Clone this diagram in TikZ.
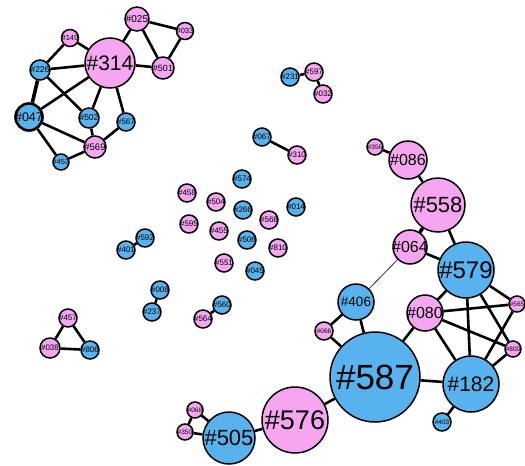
\documentclass[tikz,border=0pt]{standalone}
\usepackage{fontspec}
\setmainfont{Liberation Sans}
\definecolor{NodePink}{HTML}{F6A6F1}
\definecolor{NodeBlue}{HTML}{58B2EE}
\tikzset{
  vtx/.style={circle, draw=black, line width=1.5pt, inner sep=0pt},
  pinkv/.style={vtx, fill=NodePink},
  bluev/.style={vtx, fill=NodeBlue},
  link/.style={line width=2.6pt},
  heavylink/.style={line width=3.6pt},
  weaklink/.style={line width=0.6pt}
}

\begin{document}
\begin{tikzpicture}[x=1pt, y=-1pt]
    \useasboundingbox (0,0) rectangle (525,466);
    % pink vertices: id/x/y/radius/font size
    \foreach \id/\x/\y/\r/\f in {314/110/63/25/21, 025/137/19/12/10, 033/185/31/8.5/7.5,
        149/70/38/8.5/7.5, 501/163/68/11/9, 569/95/147/11/9.5, 597/314/72/9/8,
        032/323/94/9/8, 310/297/155/9/8, 458/187/193/9/8, 504/216/202/9/8,
        595/189/224/9/8, 455/219/231/9/8, 568/269/220/9/8, 810/278/248/9/8,
        551/224/263/9/8, 564/203/319/9/8, 457/68/318/9/8, 038/50/348/10/8,
        356/375/147/8/6.5, 086/408/160/19/16, 558/438/205/27/22, 064/410/247/17/16,
        080/425/313/18/16, 565/517/304/8/6.5, 800/513/349/8/6.5, 066/324/331/9/6.5,
        576/295/420/33/27, 068/195/410/8/6.5, 350/185/432/8/6.5}{
      \node[pinkv, minimum size=2*\r pt,
        label={[font=\fontsize{\f}{\f}\selectfont]center:\#\id}] (n\id) at (\x,\y) {};
    }
    % blue vertices: id/x/y/radius/font size
    \foreach \id/\x/\y/\r/\f in {226/40/70/10/8.5, 502/89/118/10/8.5, 567/126/122/9/8,
        453/61/162/8/7.5, 231/290/77/9/8, 067/262/137/9/8, 574/242/179/9/8,
        266/243/210/9/8, 014/296/207/9/8, 592/145/238/9/8, 401/126/250/9/8,
        506/247/240/9/8, 045/255/271/9/8, 008/160/290/9/8, 237/152/312/9/8,
        560/222/305/9/8, 806/90/350/9/8, 579/466/270/28/24, 406/356/302/18/13.5,
        587/375/377/45/35, 182/471/384/28/21, 403/442/422/9/6.5, 505/229/438/26/22}{
      \node[bluev, minimum size=2*\r pt,
        label={[font=\fontsize{\f}{\f}\selectfont]center:\#\id}] (n\id) at (\x,\y) {};
    }
    % the one with the heavy rim
    \node[bluev, line width=2.6pt, minimum size=27pt,
      label={[font=\fontsize{12.5}{12.5}\selectfont]center:\#047}] (n047) at (29,117) {};
    % edges
    \foreach \a/\b in {314/025, 314/149, 314/226, 314/501, 314/047, 314/502, 314/567,
        025/033, 025/501, 033/501, 149/226, 226/502, 047/569, 047/453, 453/569,
        502/569, 567/569, 231/597, 597/032, 067/310, 401/592, 008/237, 560/564,
        457/038, 457/806, 038/806, 356/086, 086/558, 558/579, 064/579, 406/066,
        406/587, 066/587, 587/080, 587/182, 587/576, 576/505, 505/350, 505/068,
        068/350, 080/579, 080/565, 080/800, 080/182, 579/182, 579/565, 579/800,
        182/565, 182/800, 182/403}
      \draw[link] (n\a) -- (n\b);
    \draw[heavylink] (n226) -- (n047);
    \draw[heavylink] (n558) -- (n064);
    \draw[weaklink] (n064) -- (n406);
\end{tikzpicture}
\end{document}
